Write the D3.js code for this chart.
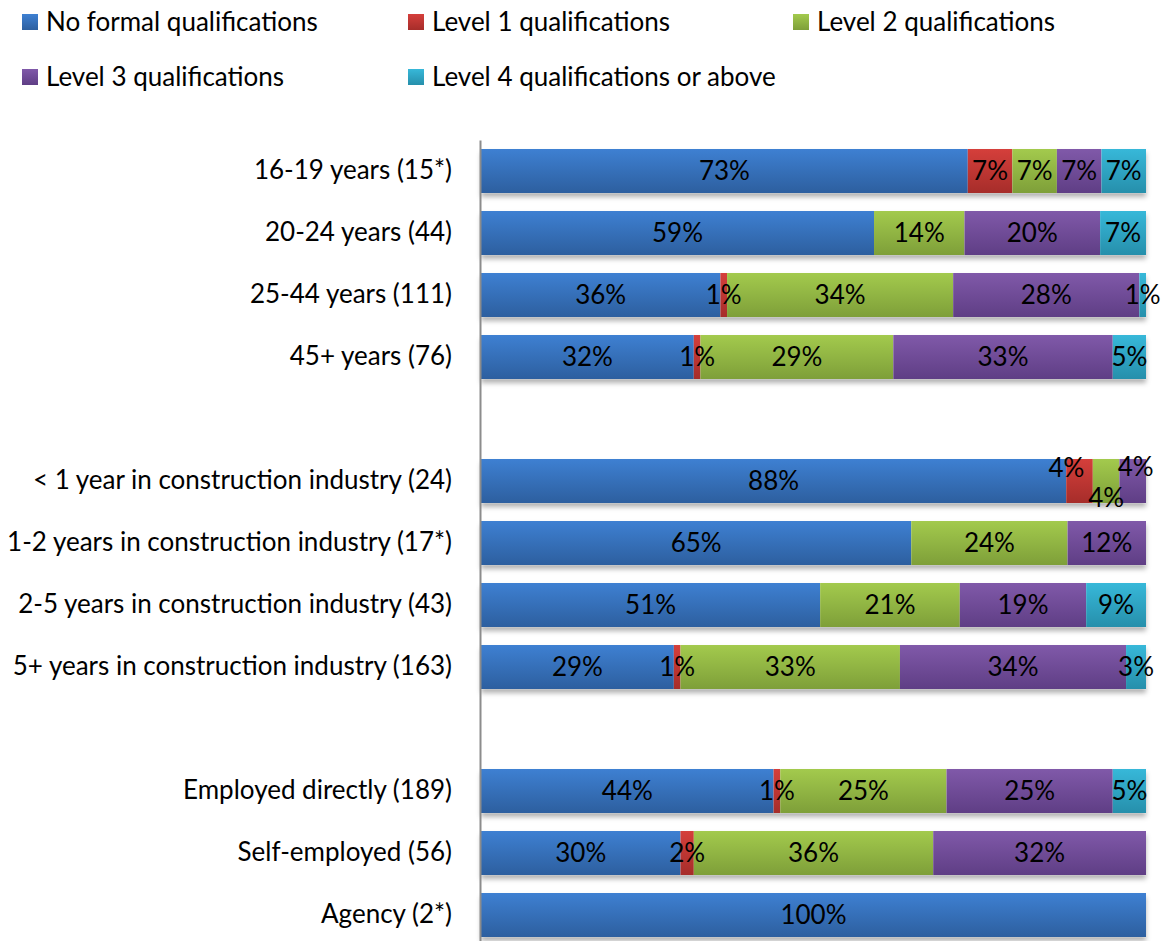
<!DOCTYPE html>
<html>
<head>
<meta charset="utf-8">
<script src="https://cdn.jsdelivr.net/npm/d3@7"></script>
<style>
  html, body { margin: 0; padding: 0; background: #fff; }
  svg { display: block; font-family: Lato, "Open Sans", sans-serif; }
</style>
</head>
<body>
<svg id="chart" width="1164" height="941"></svg>
<script>
// ---- Data ----
const categories = [
  "16-19 years (15*)", "20-24 years (44)", "25-44 years (111)", "45+ years (76)",
  "",
  "< 1 year in construction industry (24)", "1-2 years in construction industry (17*)",
  "2-5 years in construction industry (43)", "5+ years in construction industry (163)",
  "",
  "Employed directly (189)", "Self-employed (56)", "Agency (2*)"
];
const seriesNames = ["No formal qualifications", "Level 1 qualifications", "Level 2 qualifications",
  "Level 3 qualifications", "Level 4 qualifications or above"];
const noFormal = [73.2, 59.1, 36, 32, null, 88, 64.7, 51, 29, null, 44, 30, 100];
const level1   = [6.7, 0, 1, 1, null, 4, 0, 0, 1, null, 1, 2, 0];
const level2   = [6.7, 13.6, 34, 29, null, 4, 23.5, 21, 33, null, 25, 36, 0];
const level3   = [6.7, 20.4, 28, 33, null, 4, 11.8, 19, 34, null, 25, 32, 0];
const level4   = [6.7, 6.9, 1, 5, null, 0, 0, 9, 3, null, 5, 0, 0];
const seriesValues = [noFormal, level1, level2, level3, level4];
const colorsTop = ["#3e80d2", "#d53f3b", "#a3ca4d", "#8059a9", "#37b8d9"];
const colorsBottom = ["#2d5f9f", "#a62d2a", "#7e9f39", "#5f3e85", "#268fab"];

// ---- Layout ----
const svg = d3.select("#chart");
const x = d3.scaleLinear().domain([0, 100]).range([481, 1146]);
const y = d3.scaleBand().domain(d3.range(categories.length)).range([140, 946])
  .paddingInner(0.29).paddingOuter(0.145);
const FS = 26;

const defs = svg.append("defs");
seriesNames.forEach((n, i) => {
  const g = defs.append("linearGradient").attr("id", "grad" + i)
    .attr("x1", 0).attr("y1", 0).attr("x2", 0).attr("y2", 1);
  g.append("stop").attr("offset", "0%").attr("stop-color", colorsTop[i]);
  g.append("stop").attr("offset", "100%").attr("stop-color", colorsBottom[i]);
});
const f = defs.append("filter").attr("id", "shadow")
  .attr("x", "-5%").attr("y", "-20%").attr("width", "110%").attr("height", "160%");
f.append("feDropShadow").attr("dx", 0).attr("dy", 4).attr("stdDeviation", 2.5)
  .attr("flood-color", "#000").attr("flood-opacity", 0.3);

// stack data
const rows = categories.map((c, i) => {
  const r = { idx: i };
  seriesNames.forEach((s, k) => r[s] = seriesValues[k][i] || 0);
  return r;
}).filter((r, i) => categories[i] !== "");
const stack = d3.stack().keys(seriesNames);
const stacked = stack(rows);

// bar shadows
const barGroups = svg.append("g");
rows.forEach(r => {
  barGroups.append("rect")
    .attr("x", x(0)).attr("y", y(r.idx))
    .attr("width", x(100) - x(0)).attr("height", y.bandwidth())
    .attr("fill", "#fff").attr("filter", "url(#shadow)");
});
stacked.forEach((layer, k) => {
  svg.append("g").selectAll("rect").data(layer.filter(d => d[1] - d[0] > 0)).join("rect")
    .attr("x", d => x(d[0]))
    .attr("y", d => y(d.data.idx))
    .attr("width", d => x(d[1]) - x(d[0]))
    .attr("height", y.bandwidth())
    .attr("fill", `url(#grad${k})`);
});

// labels
const nudge = { "5-1": [-13, -13], "5-2": [0, 17], "5-3": [3, -14] };
stacked.forEach((layer, k) => {
  svg.append("g").selectAll("text").data(layer.filter(d => d[1] - d[0] > 0)).join("text")
    .attr("x", d => (x(d[0]) + x(d[1])) / 2 + ((nudge[d.data.idx + "-" + k] || [0, 0])[0]))
    .attr("y", d => y(d.data.idx) + y.bandwidth() / 2 + ((nudge[d.data.idx + "-" + k] || [0, 0])[1]))
    .attr("dy", "0.36em")
    .attr("text-anchor", "middle")
    .attr("font-size", FS)
    .attr("fill", "#000")
    .text(d => Math.round(d[1] - d[0]) + "%");
});

// axis
const axis = svg.append("g").attr("transform", "translate(480,0)")
  .call(d3.axisLeft(y).tickSize(0).tickPadding(28).tickFormat(i => categories[i]));
axis.select(".domain").attr("stroke", "#8c8c8c").attr("stroke-width", 2);
axis.selectAll(".tick text").attr("font-size", FS).attr("fill", "#000")
  .attr("font-family", "Lato, 'Open Sans', sans-serif");

// legend
const legendPos = [[22, 22], [408, 22], [793, 22], [22, 77], [408, 77]];
const legend = svg.append("g");
seriesNames.forEach((n, i) => {
  const g = legend.append("g").attr("transform", `translate(${legendPos[i][0]},${legendPos[i][1]})`);
  g.append("rect").attr("x", 0).attr("y", -8).attr("width", 16).attr("height", 16)
    .attr("fill", `url(#grad${i})`);
  g.append("text").attr("x", 24).attr("y", 0).attr("dy", "0.36em")
    .attr("font-size", FS).attr("fill", "#000").text(n);
});
</script>
</body>
</html>
